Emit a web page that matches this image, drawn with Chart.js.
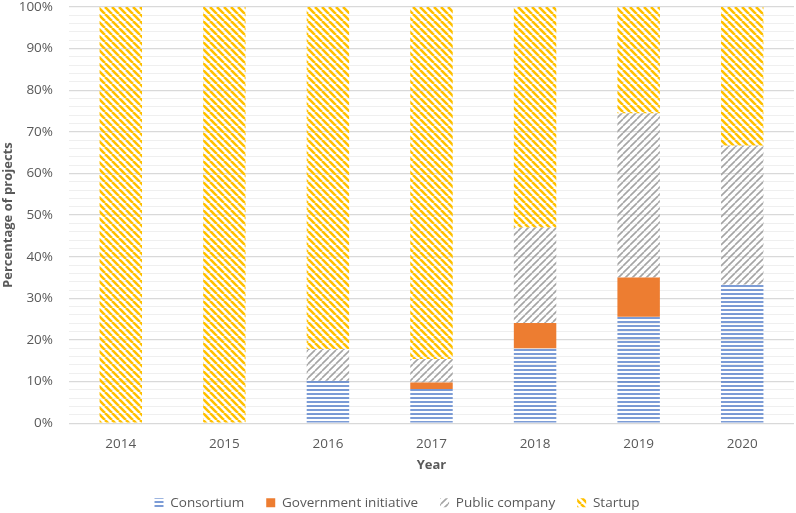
<!DOCTYPE html>
<html>
<head>
<meta charset="utf-8">
<script src="https://cdn.jsdelivr.net/npm/chart.js@4.4.0/dist/chart.umd.min.js"></script>
<style>
html, body { margin: 0; padding: 0; background: #fff; }
#wrap { width: 796px; height: 513px; }
</style>
</head>
<body>
<div id="wrap"><canvas id="mycanvas" width="796" height="513"></canvas></div>
<script>
// data (percent of projects per year)
var years = ['2014', '2015', '2016', '2017', '2018', '2019', '2020'];
var consortium = [0, 0, 10.2, 8.2, 18, 25.6, 33.3];
var government = [0, 0, 0, 1.6, 6.1, 9.4, 0];
var publicCompany = [0, 0, 7.6, 5.6, 22.9, 39.5, 33.4];
var startup = [100, 100, 82.2, 84.6, 53, 25.5, 33.3];

// small canvas tiles used as hatch fills
function hatch(kind, color, size, lw) {
	var c = document.createElement('canvas');
	c.width = size; c.height = size;
	var g = c.getContext('2d');
	g.strokeStyle = color;
	g.lineWidth = lw;
	g.beginPath();
	if (kind == 'h') {
		g.moveTo(0, size / 2); g.lineTo(size, size / 2);
	} else {
		for (var o = -size; o <= size; o += size) {
			if (kind == 'b') { g.moveTo(o, 0); g.lineTo(o + size, size); }
			else { g.moveTo(o, size); g.lineTo(o + size, 0); }
		}
	}
	g.stroke();
	return g.createPattern(c, 'repeat');
}

var txt = '#595959';
var fam = "'Open Sans', 'Noto Sans', sans-serif";

var ctx = document.getElementById('mycanvas');
var barGraph = new Chart(ctx, {
	type: 'bar',
	data: {
		labels: years,
		datasets: [
			{ label: 'Consortium', data: consortium, backgroundColor: hatch('h', '#4472C4', 4, 1.4) },
			{ label: 'Government initiative', data: government, backgroundColor: '#ED7D31' },
			{ label: 'Public company', data: publicCompany, backgroundColor: hatch('f', '#A5A5A5', 7, 1.6) },
			{ label: 'Startup', data: startup, backgroundColor: hatch('b', '#FFC000', 7, 2.6) }
		]
	},
	options: {
		responsive: false,
		animation: false,
		layout: { padding: { top: 0, right: 2, left: 0, bottom: 0 } },
		datasets: { bar: { categoryPercentage: 1, barPercentage: 0.41 } },
		plugins: {
			legend: {
				position: 'bottom',
				maxHeight: 39,
				labels: { color: txt, font: { family: fam, size: 13.5 }, boxWidth: 9, boxHeight: 9, padding: 22 }
			},
			tooltip: { enabled: false }
		},
		scales: {
			x: {
				stacked: true,
				grid: { display: false },
				border: { display: false },
				ticks: { color: txt, font: { family: fam, size: 13.5 }, padding: 5 },
				title: { display: true, text: 'Year', color: txt, font: { family: fam, size: 13, weight: 'bold' }, padding: { top: 0, bottom: 1 } },
				afterFit: function (s) { s.paddingLeft = 0; s.paddingRight = 0; }
			},
			y: {
				stacked: true,
				min: 0,
				max: 100,
				border: { display: false },
				grid: {
					color: function (c) { return c.tick && c.tick.value % 10 == 0 ? '#D9D9D9' : '#EFEFEF'; },
					lineWidth: function (c) { return c.tick && c.tick.value % 10 == 0 ? 1.3 : 1; },
					drawTicks: false
				},
				ticks: {
					stepSize: 2,
					autoSkip: false,
					padding: 16,
					color: txt,
					font: { family: fam, size: 13.5 },
					callback: function (v) { return v % 10 == 0 ? v + '%' : ''; }
				},
				title: { display: true, text: 'Percentage of projects', color: txt, font: { family: fam, size: 13, weight: 'bold' }, padding: { top: 0, bottom: 3 } },
				afterFit: function (s) { s.width = 69; s.paddingTop = 7; s.paddingBottom = 0; }
			}
		}
	}
});
</script>
</body>
</html>
